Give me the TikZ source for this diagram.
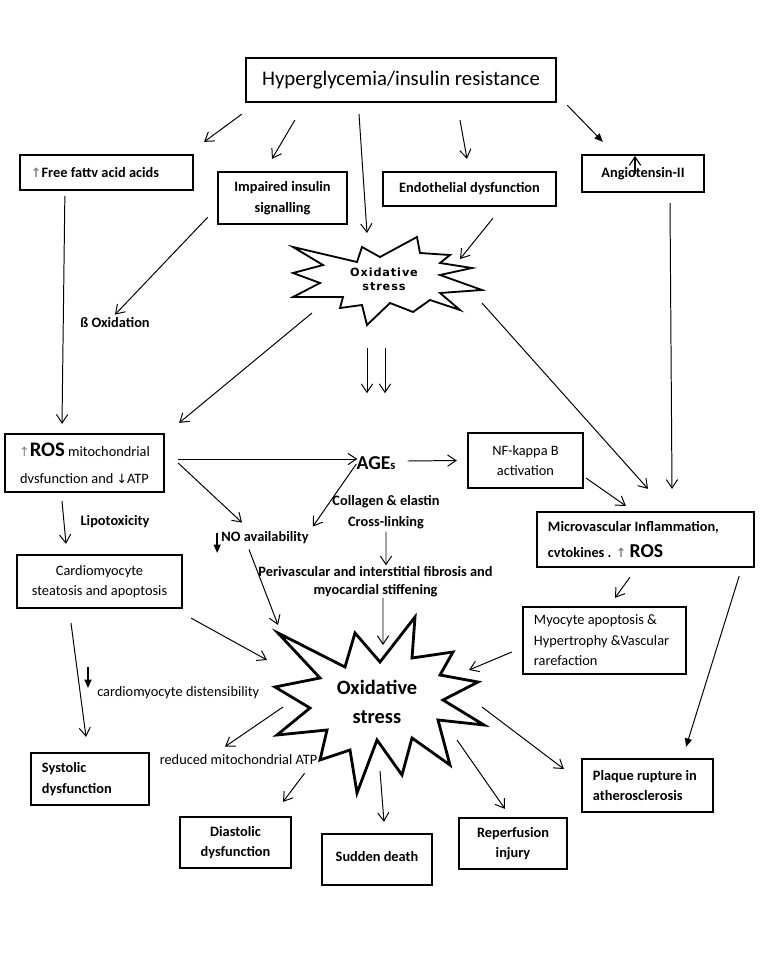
\documentclass[tikz,border=0pt]{standalone}
\usepackage{fontspec}
\setmainfont{Carlito}
\newfontfamily\dvsans{DejaVu Sans}
\newfontfamily\dvstar[LetterSpace=8]{DejaVu Sans}
\usepackage{xcolor}
\usetikzlibrary{calc, arrows.meta}

\newcommand{\upgray}{\textcolor{gray}{\dvsans\fontsize{9}{9}\selectfont ↑}}
\newcommand{\dnarrow}{{\dvsans\fontsize{9}{9}\selectfont ↓}}

\begin{document}
\begin{tikzpicture}[x=0.025cm, y=-0.025cm,
  font=\fontsize{10.2}{14.5}\selectfont,
  bf/.style={font=\fontsize{10.2}{14.5}\selectfont\bfseries},
  bx/.style={draw, line width=1.6pt, align=center, inner sep=0pt},
  lbx/.style={draw, line width=1.6pt, align=flush left, inner xsep=0.275cm, inner ysep=0pt},
  lbl/.style={inner sep=0pt, align=center},
  arr/.style={-{Straight Barb[length=6pt,width=8pt]}, line width=0.7pt},
  farr/.style={-{Triangle[length=6pt,width=5pt]}, line width=0.7pt},
  burst/.style={line width=#1, line join=miter}]
\useasboundingbox[fill=white] (0,0) rectangle (764,960);

% boxes
\node[bx, minimum width=7.75cm, minimum height=1.1cm, font=\fontsize{14.8}{18}\selectfont] (hyper) at (401,80) {Hyperglycemia/insulin resistance};
\node[lbx, bf, text width=3.775cm, minimum height=0.875cm] (ffa) at (106.5,172.5) {\upgray Free fattv acid acids};
\node[bx, bf, minimum width=3.225cm, minimum height=1.3cm] (insul) at (282.5,198) {Impaired insulin\\signalling};
\node[bx, bf, minimum width=4.325cm, minimum height=0.85cm] (endo) at (469.5,189) {Endothelial dysfunction};
\node[bx, bf, minimum width=3.05cm, minimum height=0.925cm] (angio) at (643,173.5) {Angiotensin-II};
\draw[arr, line width=0.8pt] ($(angio.south)+(-8,-19)$) -- ($(angio.north)+(-8,2)$);

% small star
\draw[burst=1.3pt] (293,247) -- (357,262) -- (362,247) -- (380,257) -- (417,237) -- (420,253)
  -- (450,255) -- (440,263) -- (472,268) -- (440,275) -- (482,290) -- (440,293) -- (460,310)
  -- (430,300) -- (413,312) -- (390,303) -- (367,325) -- (362,305) -- (340,308) -- (343,297)
  -- (293,297) -- (320,283) -- (293,273) -- (323,265) -- cycle;
\node[lbl, font=\dvstar\bfseries\fontsize{8}{10}\selectfont] (ox1) at (384,279) {Oxidative\\stress};

\node[lbl, bf] (beta) at (115,323) {ß Oxidation};

\node[bx, minimum width=3.975cm, minimum height=1.45cm, font=\fontsize{10.2}{19}\selectfont] (ros) at (84.5,463)
  {\upgray{\fontsize{14.7}{19}\selectfont\bfseries ROS} mitochondrial\\dvsfunction and \dnarrow ATP};
\node[lbl, font=\fontsize{14}{16}\selectfont\bfseries] (ages) at (376,463) {AGE{\fontsize{9}{9}\selectfont s}};
\node[bx, minimum width=2.875cm, minimum height=1.375cm] (nfkb) at (525.5,460.5) {NF-kappa B\\activation};
\node[lbx, text width=4.875cm, minimum height=1.375cm, font=\fontsize{10.2}{18}\selectfont\bfseries] (micro) at (645.5,539.5)
  {Microvascular Inflammation,\\cvtokines . \upgray\ {\fontsize{14}{18}\selectfont ROS}};

\node[lbl, bf] (lipo) at (115,522) {Lipotoxicity};
\node[lbl, bf] (coll) at (386,512) {Collagen \& elastin\\Cross-linking};
\node[lbl, bf] (noav) at (265,538) {NO availability};
\node[lbl, bf, font=\fontsize{10.2}{13}\selectfont\bfseries] (peri) at (375.5,582) {Perivascular and interstitial fibrosis and\\myocardial stiffening};
\node[bx, minimum width=4.125cm, minimum height=1.325cm] (cardio) at (99.5,581.5) {Cardiomyocyte\\steatosis and apoptosis};
\node[lbx, text width=3.525cm, minimum height=1.675cm] (myo) at (604.5,640.5) {Myocyte apoptosis \&\\Hypertrophy \&Vascular\\rarefaction};

% big star
\draw[burst=2pt] (278,633) -- (345,667) -- (355,633) -- (380,662) -- (415,617) -- (412,658)
  -- (453,652) -- (440,675) -- (478,682) -- (443,700) -- (484,725) -- (438,720) -- (450,765)
  -- (412,738) -- (402,775) -- (377,740) -- (357,793) -- (350,750) -- (320,760) -- (327,730)
  -- (277,735) -- (310,708) -- (275,687) -- (320,678) -- cycle;
\node[lbl, font=\fontsize{14.5}{20.6}\selectfont\bfseries] (ox2) at (377,702) {Oxidative\\stress};

\node[lbl, anchor=west] (dist) at (97,693) {cardiomyocyte distensibility};
\node[lbl] (atp) at (238.5,760) {reduced mitochondrial ATP};
\node[lbx, bf, text width=2.4cm, minimum height=1.3cm] (sys) at (90,779) {Systolic\\dysfunction};
\node[bx, bf, minimum width=2.775cm, minimum height=1.275cm] (dia) at (235.5,842.5) {Diastolic\\dysfunction};
\node[bx, bf, minimum width=2.75cm, minimum height=1.275cm] (sudden) at (377,859.5) {\raisebox{4pt}{Sudden death}};
\node[bx, bf, minimum width=2.7cm, minimum height=1.275cm] (reperf) at (513,843.5) {Reperfusion\\injury};
\node[lbx, bf, text width=2.725cm, minimum height=1.325cm] (plaque) at (647.5,785.5) {Plaque rupture in\\atherosclerosis};

% from the top box
\draw[arr] ($(hyper.south west)+(-3,11)$) -- ($(ffa.north east)+(10,-12)$);
\draw[arr] ($(hyper.south west)+(50,17)$) -- ($(insul.north)+(-10.5,-12)$);
\draw[arr] ($(hyper.south)+(-42,11)$) -- ($(ox1)+(-17,-46)$);
\draw[arr] ($(hyper.south)+(59,17)$) -- ($(endo.north)+(-2.5,-12)$);
\draw[farr] ($(hyper.south east)+(10,2)$) -- ($(angio.north west)+(22,-12)$);

% second row
\draw[arr] ($(ffa.south west)+(46,5)$) -- ($(ros.north)+(-22.5,-9)$);
\draw[arr] ($(insul.south west)+(-9,-8)$) -- ($(beta.north)+(0,-3)$);
\draw[arr] ($(endo.south)+(23.5,11)$) -- ($(ox1)+(76,-20)$);
\draw[arr] ($(ox1)+(-72,34)$) -- ($(ros.north east)+(14,-10)$);
\draw[arr] ($(ox1)+(98,24)$) -- ($(micro.north)+(2.5,-22)$);
\draw[arr] ($(angio.south)+(27,10)$) -- ($(micro.north)+(26.5,-22)$);
\draw[arr] ($(ox1)+(-17,69)$) -- ($(ages.north)+(-9,-63)$);
\draw[arr] ($(ox1)+(1,69)$) -- ($(ages.north)+(9,-63)$);

% middle
\draw[arr] ($(ros.east)+(13,-4)$) -- ($(ages.west)+(1,-4)$);
\draw[arr] ($(ros.east)+(13,0)$) -- ($(noav.north)+(-23,-9)$);
\draw[arr] ($(ages.west)+(0,1)$) -- ($(noav.north east)+(4,-5)$);
\draw[arr] ($(ages.east)+(12,-2)$) -- ($(nfkb.west)+(-10,0)$);
\draw[arr] ($(nfkb.south east)+(2,-11)$) -- ($(micro.north west)+(90,-5)$);
\draw[arr] ($(micro.south)+(-15.5,9)$) -- ($(myo.north)+(10.5,-8)$);
\draw[farr] ($(micro.south east)+(-16,8)$) -- ($(plaque.north)+(38.5,-11)$);
\draw[arr] ($(coll.south)+(0,3)$) -- ($(peri.north)+(10.5,-1)$);
\draw[arr] ($(ros.south)+(-22.5,8)$) -- ($(cardio.north)+(-33.5,-10)$);
\draw[farr, line width=1pt] ($(noav.west)+(-4,-5)$) -- ($(noav.west)+(-4,15)$);

% into the big star
\draw[arr] ($(peri.south)+(7.5,0)$) -- ($(ox2)+(6,-57)$);
\draw[arr] ($(noav.south)+(-16,5)$) -- ($(ox2)+(-99,-77)$);
\draw[arr] ($(cardio.south east)+(8,9)$) -- ($(ox2)+(-110,-42)$);
\draw[arr] ($(myo.west)+(-10,11.5)$) -- ($(ox2)+(92,-32)$);

% out of the big star
\draw[arr] ($(cardio.south)+(-28.5,14)$) -- ($(sys.north)+(-4,-15)$);
\draw[farr, line width=1pt] ($(dist.west)+(-9,-26)$) -- ($(dist.west)+(-9,-5)$);
\draw[arr] ($(ox2)+(-94,5)$) -- ($(atp.north)+(-13.5,-8)$);
\draw[arr] ($(atp.south east)+(-13,8)$) -- ($(dia.north)+(47.5,-14)$);
\draw[arr] ($(ox2)+(3,69)$) -- ($(sudden.north)+(7,-11)$);
\draw[arr] ($(ox2)+(80,38)$) -- ($(reperf.north)+(-8,-8)$);
\draw[arr] ($(ox2)+(105,5)$) -- ($(plaque.west)+(-17,-16.5)$);
\end{tikzpicture}
\end{document}
